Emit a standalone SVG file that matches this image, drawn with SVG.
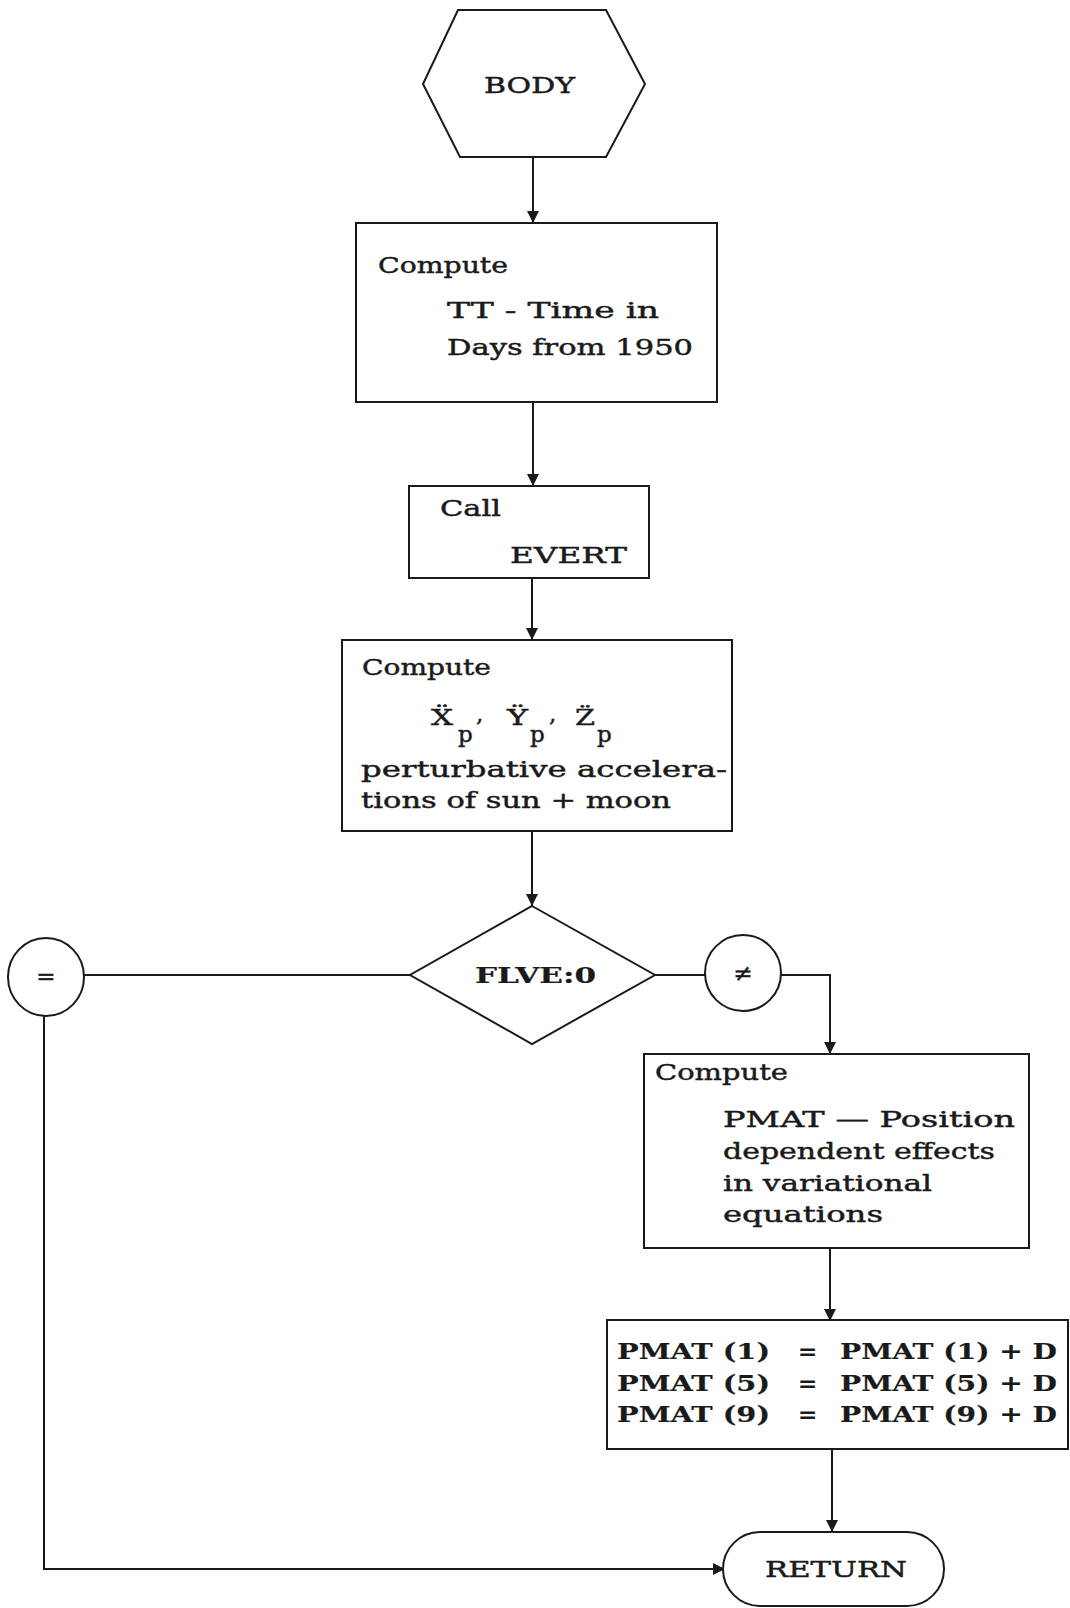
<svg xmlns="http://www.w3.org/2000/svg" width="1070" height="1608" viewBox="0 0 1070 1608">
<style>
.s{fill:#fff;stroke:#1a1a1a;stroke-width:2}
.c{fill:none;stroke:#1a1a1a;stroke-width:2}
text{font-family:"DejaVu Serif","Liberation Serif",serif;fill:#1a1a1a;font-size:23px;stroke:#1a1a1a;stroke-width:0.45}
.b{font-weight:bold;stroke-width:0.2}
</style>
<defs>
<marker id="ah" markerUnits="userSpaceOnUse" markerWidth="12" markerHeight="14" refX="12" refY="6" orient="auto">
<path d="M0,0 L12,6 L0,12 Z" fill="#1a1a1a"/>
</marker>
</defs>
<rect width="1070" height="1608" fill="#fff"/>
<g id="connectors">
<line class="c" x1="533" y1="157" x2="533" y2="223" marker-end="url(#ah)"/>
<line class="c" x1="533" y1="402" x2="533" y2="486" marker-end="url(#ah)"/>
<line class="c" x1="532" y1="578" x2="532" y2="640" marker-end="url(#ah)"/>
<line class="c" x1="532" y1="831" x2="532" y2="906" marker-end="url(#ah)"/>
<line class="c" x1="84" y1="975" x2="410" y2="975"/>
<line class="c" x1="655" y1="975" x2="705" y2="975"/>
<polyline class="c" points="781,975 830,975 830,1054" marker-end="url(#ah)"/>
<line class="c" x1="830" y1="1248" x2="830" y2="1321" marker-end="url(#ah)"/>
<line class="c" x1="832" y1="1450" x2="832" y2="1532" marker-end="url(#ah)"/>
<polyline class="c" points="44,1015 44,1569 725,1569" marker-end="url(#ah)"/>
</g>
<g id="body">
<polygon class="s" points="458,10 606,10 645,84 606,157 460,157 423,84"/>
<text x="484" y="93" textLength="91" lengthAdjust="spacingAndGlyphs">BODY</text>
</g>
<g id="compute1">
<rect class="s" x="356" y="223" width="361" height="179"/>
<text x="378" y="273" textLength="130" lengthAdjust="spacingAndGlyphs">Compute</text>
<text x="447" y="318" textLength="212" lengthAdjust="spacingAndGlyphs">TT - Time in</text>
<text x="447" y="355" textLength="246" lengthAdjust="spacingAndGlyphs">Days from 1950</text>
</g>
<g id="call">
<rect class="s" x="409" y="486" width="240" height="92"/>
<text x="440" y="516" textLength="61" lengthAdjust="spacingAndGlyphs">Call</text>
<text x="510" y="563" textLength="117" lengthAdjust="spacingAndGlyphs">EVERT</text>
</g>
<g id="compute2">
<rect class="s" x="342" y="640" width="390" height="191"/>
<text x="362" y="675" textLength="129" lengthAdjust="spacingAndGlyphs">Compute</text>
<text x="431" y="725" font-size="30" textLength="22" lengthAdjust="spacingAndGlyphs">Ẍ</text>
<text x="458" y="742" font-size="24">p</text>
<text x="476" y="722" font-size="24">,</text>
<text x="507" y="725" font-size="30" textLength="21" lengthAdjust="spacingAndGlyphs">Ÿ</text>
<text x="530" y="742" font-size="24">p</text>
<text x="549" y="722" font-size="24">,</text>
<text x="575" y="725" font-size="30" textLength="20" lengthAdjust="spacingAndGlyphs">Z̈</text>
<text x="597" y="742" font-size="24">p</text>
<text x="361" y="777" textLength="366" lengthAdjust="spacingAndGlyphs">perturbative accelera-</text>
<text x="361" y="808" textLength="310" lengthAdjust="spacingAndGlyphs">tions of sun + moon</text>
</g>
<g id="decision">
<polygon class="s" points="532,906 655,975 532,1044 410,975"/>
<text class="b" x="475" y="983" font-size="20" textLength="121" lengthAdjust="spacingAndGlyphs">FLVE:0</text>
</g>
<g id="eq">
<ellipse class="s" cx="46" cy="977" rx="38" ry="39"/>
<text x="46" y="984" font-size="18" text-anchor="middle">=</text>
</g>
<g id="ne">
<ellipse class="s" cx="743" cy="973" rx="38" ry="38"/>
<text x="743" y="981" font-size="22" text-anchor="middle">≠</text>
</g>
<g id="compute3">
<rect class="s" x="644" y="1054" width="385" height="194"/>
<text x="655" y="1080" textLength="133" lengthAdjust="spacingAndGlyphs">Compute</text>
<text x="723" y="1127" textLength="292" lengthAdjust="spacingAndGlyphs">PMAT — Position</text>
<text x="723" y="1159" textLength="272" lengthAdjust="spacingAndGlyphs">dependent effects</text>
<text x="723" y="1191" textLength="209" lengthAdjust="spacingAndGlyphs">in variational</text>
<text x="723" y="1222" textLength="160" lengthAdjust="spacingAndGlyphs">equations</text>
</g>
<g id="pmat">
<rect class="s" x="607" y="1320" width="461" height="129"/>
<text class="b" font-size="27" y="1359"><tspan x="617" textLength="153" lengthAdjust="spacingAndGlyphs">PMAT (1)</tspan><tspan x="798">=</tspan><tspan x="840" textLength="217" lengthAdjust="spacingAndGlyphs">PMAT (1) + D</tspan></text>
<text class="b" font-size="27" y="1391"><tspan x="617" textLength="153" lengthAdjust="spacingAndGlyphs">PMAT (5)</tspan><tspan x="798">=</tspan><tspan x="840" textLength="217" lengthAdjust="spacingAndGlyphs">PMAT (5) + D</tspan></text>
<text class="b" font-size="27" y="1422"><tspan x="617" textLength="153" lengthAdjust="spacingAndGlyphs">PMAT (9)</tspan><tspan x="798">=</tspan><tspan x="840" textLength="217" lengthAdjust="spacingAndGlyphs">PMAT (9) + D</tspan></text>
</g>
<g id="return">
<rect class="s" x="723" y="1532" width="221" height="74" rx="37" ry="37"/>
<text x="765" y="1577" textLength="142" lengthAdjust="spacingAndGlyphs">RETURN</text>
</g>
</svg>
